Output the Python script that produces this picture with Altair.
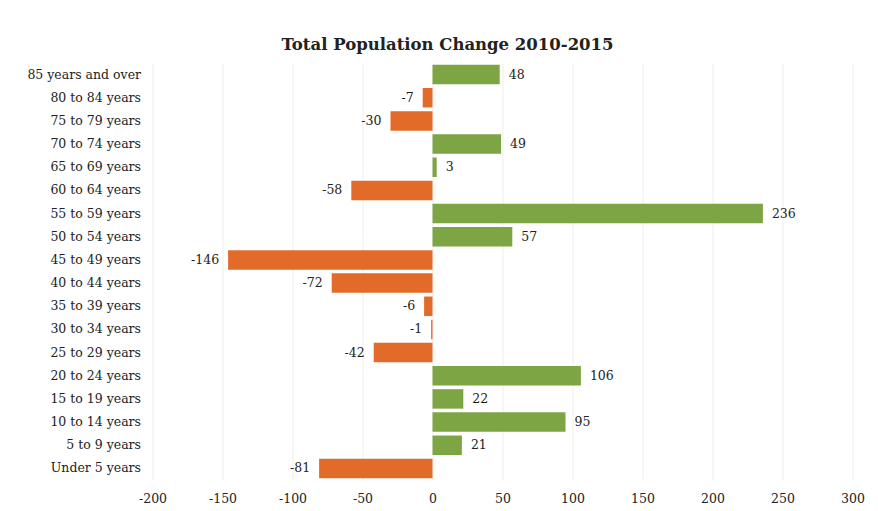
import altair as alt
import pandas as pd

categories = ["85 years and over", "80 to 84 years", "75 to 79 years", "70 to 74 years",
              "65 to 69 years", "60 to 64 years", "55 to 59 years", "50 to 54 years",
              "45 to 49 years", "40 to 44 years", "35 to 39 years", "30 to 34 years",
              "25 to 29 years", "20 to 24 years", "15 to 19 years", "10 to 14 years",
              "5 to 9 years", "Under 5 years"]
values = [48, -7, -30, 49, 3, -58, 236, 57, -146, -72, -6, -1, -42, 106, 22, 95, 21, -81]
x_ticks = [-200, -150, -100, -50, 0, 50, 100, 150, 200, 250, 300]

df = pd.DataFrame({"age": categories, "change": values})
df["sign"] = ["pos" if v >= 0 else "neg" for v in values]
df["label"] = [str(v) for v in values]

FONT = "DejaVu Serif"

base = alt.Chart(df).encode(
    y=alt.Y("age:N", sort=categories, title=None,
            scale=alt.Scale(paddingInner=0.16, paddingOuter=0.08),
            axis=alt.Axis(labelFont=FONT, labelFontSize=12.5, labelColor="#222222",
                          ticks=False, domain=False, labelPadding=12, grid=False))
)

bars = base.mark_bar().encode(
    x=alt.X("change:Q", title=None,
            scale=alt.Scale(domain=[-200, 300], nice=False),
            axis=alt.Axis(values=x_ticks, labelFont=FONT, labelFontSize=12.5,
                          labelExpr="'' + datum.value", labelFlush=False,
                          labelColor="#222222", ticks=False, domain=False,
                          grid=True, gridColor="#eeeeee", labelPadding=12)),
    color=alt.Color("sign:N", scale=alt.Scale(domain=["pos", "neg"],
                                              range=["#7da544", "#e36b2a"]), legend=None),
)

pos_labels = base.transform_filter("datum.change >= 0").mark_text(
    align="left", dx=9, font=FONT, fontSize=12.5, color="#222222"
).encode(x="change:Q", text="label:N")

neg_labels = base.transform_filter("datum.change < 0").mark_text(
    align="right", dx=-9, font=FONT, fontSize=12.5, color="#222222"
).encode(x="change:Q", text="label:N")

chart = alt.layer(bars, pos_labels, neg_labels).properties(
    width=700, height=417,
    background="white",
    title=alt.TitleParams("Total Population Change 2010-2015", font=FONT, fontSize=16.5,
                          fontWeight="bold", color="#222222", anchor="middle",
                          dx=-55, offset=10),
    autosize=alt.AutoSizeParams(type="none"),
    padding={"left": 144.5, "top": 55, "right": 17, "bottom": 30},
).configure_view(stroke=None)

chart.save("out.html", embed_options={"renderer": "svg", "actions": False})
